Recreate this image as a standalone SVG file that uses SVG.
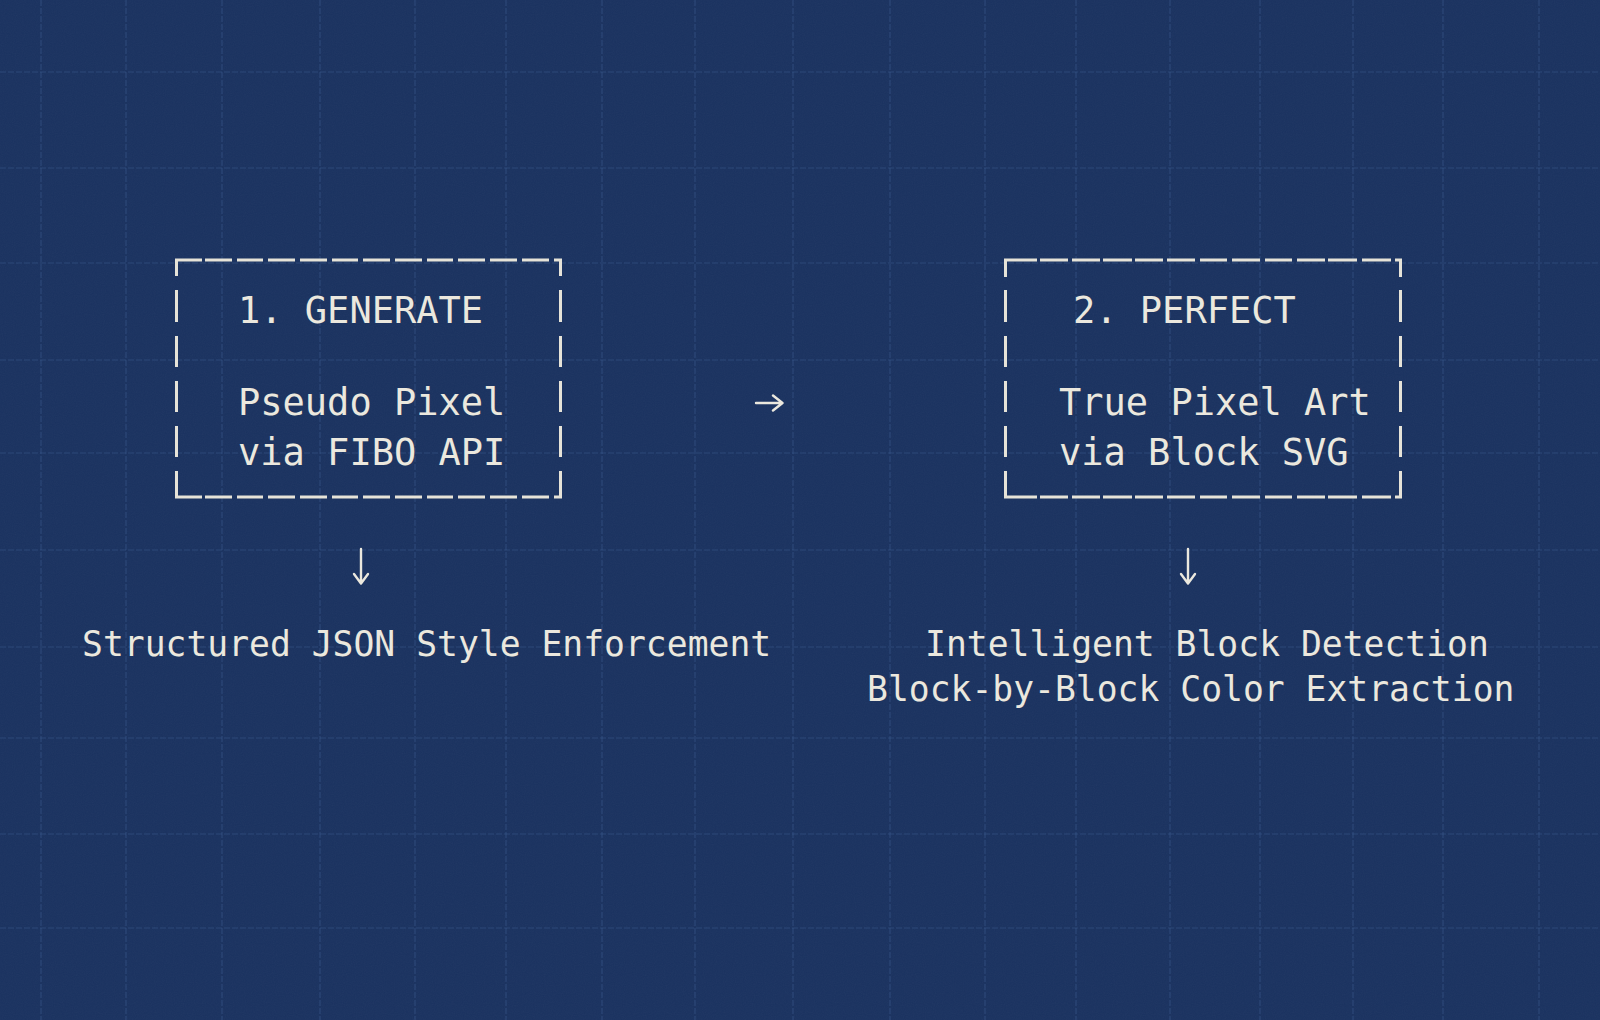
<svg xmlns="http://www.w3.org/2000/svg" width="1600" height="1020" viewBox="0 0 1600 1020">
  <defs>
    <style>
      .bg { fill: #1a3260; }
      .grid { fill: none; stroke: #3d5c90; stroke-width: 1.2; stroke-opacity: 0.5; stroke-dasharray: 6 2; }
      .frame { fill: none; stroke: #e6e3d8; stroke-width: 3; stroke-linecap: butt; }
      .t { font-family: "DejaVu Sans Mono", "Liberation Mono", monospace; fill: #ebe8de; }
      .box { font-size: 37px; }
      .note { font-size: 34.7px; }
      .conn { fill: none; stroke: #ebe8de; stroke-width: 2.4; stroke-linecap: round; stroke-linejoin: round; }
    </style>
    <filter id="grain" x="0" y="0" width="100%" height="100%">
      <feTurbulence type="fractalNoise" baseFrequency="0.9" numOctaves="2" seed="3" result="n"/>
      <feColorMatrix type="saturate" values="0"/>
    </filter>
  </defs>

  <rect class="bg" x="0" y="0" width="1600" height="1020"/>
  <rect x="0" y="0" width="1600" height="1020" filter="url(#grain)" opacity="0.04"/>

  <g id="grid">
    <path class="grid" d="M41 0V1020 M126 0V1020 M222 0V1020 M320 0V1020 M415 0V1020 M506 0V1020 M602 0V1020 M695 0V1020 M793 0V1020 M890 0V1020 M985 0V1020 M1076 0V1020 M1170 0V1020 M1260 0V1020 M1353 0V1020 M1443 0V1020 M1539 0V1020"/>
    <path class="grid" d="M0 72H1600 M0 168H1600 M0 263H1600 M0 360H1600 M0 453H1600 M0 550H1600 M0 647H1600 M0 738H1600 M0 834H1600 M0 928H1600"/>
  </g>

  <g id="node-generate">
    <path class="frame" d="M175 260H202 M205 260H232 M237 260H263 M268 260H295 M300 260H327 M332 260H358 M363 260H390 M395 260H422 M427 260H453 M458 260H485 M490 260H517 M522 260H549 M554 260H562
      M175 497H202 M205 497H232 M237 497H263 M268 497H295 M300 497H327 M332 497H358 M363 497H390 M395 497H422 M427 497H453 M458 497H485 M490 497H517 M522 497H549 M554 497H562
      M176.5 258.5V276 M176.5 290V322 M176.5 336V367 M176.5 381V412 M176.5 426V457 M176.5 471V498.5
      M560.5 258.5V276 M560.5 290V322 M560.5 336V367 M560.5 381V412 M560.5 426V457 M560.5 471V498.5"/>
    <text class="t box" x="238" y="323">1. GENERATE</text>
    <text class="t box" x="238" y="415">Pseudo Pixel</text>
    <text class="t box" x="238" y="465">via FIBO API</text>
  </g>

  <g id="node-perfect">
    <path class="frame" d="M1004 260H1037 M1040 260H1068 M1072 260H1100 M1103 260H1132 M1135 260H1163 M1167 260H1195 M1200 260H1227 M1232 260H1260 M1265 260H1292 M1297 260H1325 M1328 260H1357 M1362 260H1391 M1395 260H1402
      M1004 497H1037 M1040 497H1068 M1072 497H1100 M1103 497H1132 M1135 497H1163 M1167 497H1195 M1200 497H1227 M1232 497H1260 M1265 497H1292 M1297 497H1325 M1328 497H1357 M1362 497H1391 M1395 497H1402
      M1005.5 258.5V277 M1005.5 290V322 M1005.5 336V367 M1005.5 381V412 M1005.5 426V457 M1005.5 471V498.5
      M1400.5 258.5V277 M1400.5 290V322 M1400.5 336V367 M1400.5 381V412 M1400.5 426V457 M1400.5 471V498.5"/>
    <text class="t box" x="1073" y="323">2. PERFECT</text>
    <text class="t box" x="1059" y="415">True Pixel Art</text>
    <text class="t box" x="1059" y="465">via Block SVG</text>
  </g>

  <g id="node-json">
    <text class="t note" x="82" y="656">Structured JSON Style Enforcement</text>
  </g>

  <g id="node-detection">
    <text class="t note" x="925" y="656">Intelligent Block Detection</text>
    <text class="t note" x="867" y="701">Block-by-Block Color Extraction</text>
  </g>

  <g id="connectors">
    <path class="conn" d="M756 403H782 M773 395.5L782.5 403L773 410.5"/>
    <path class="conn" d="M361 549V583 M354 574L361 583.5L368 574"/>
    <path class="conn" d="M1188 549V583 M1181 574L1188 583.5L1195 574"/>
  </g>
</svg>
